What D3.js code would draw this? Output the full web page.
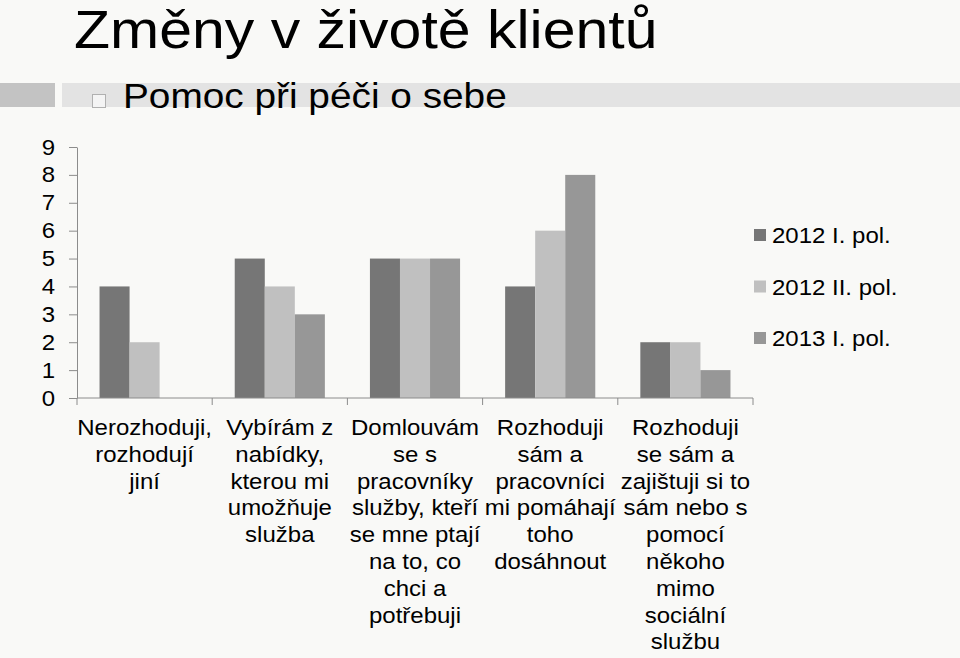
<!DOCTYPE html>
<html>
<head>
<meta charset="utf-8">
<script src="https://cdn.jsdelivr.net/npm/d3@7"></script>
<style>
  html, body { margin: 0; padding: 0; background: #f9f9f7; }
  svg { display: block; }
  text { font-family: "Liberation Sans", Arial, sans-serif; fill: #000; }
</style>
</head>
<body>
<svg id="chart" width="960" height="658"></svg>
<script>
const title = "Změny v životě klientů";
const subtitle = "Pomoc při péči o sebe";
const categories = [
  ["Nerozhoduji,", "rozhodují", "jiní"],
  ["Vybírám z", "nabídky,", "kterou mi", "umožňuje", "služba"],
  ["Domlouvám", "se s", "pracovníky", "služby, kteří", "se mne ptají", "na to, co", "chci a", "potřebuji"],
  ["Rozhoduji", "sám a", "pracovníci", "mi pomáhají", "toho", "dosáhnout"],
  ["Rozhoduji", "se sám a", "zajištuji si to", "sám nebo s", "pomocí", "někoho", "mimo", "sociální", "službu"]
];
const seriesNames = ["2012 I. pol.", "2012 II. pol.", "2013 I. pol."];
const s2012a = [4, 5, 5, 4, 2];
const s2012b = [2, 4, 5, 6, 2];
const s2013a = [0, 3, 5, 8, 1];
const yTicks = [0, 1, 2, 3, 4, 5, 6, 7, 8, 9];
const colors = ["#767676", "#c0c0c0", "#979797"];

const seriesValues = [s2012a, s2012b, s2013a];
const catIdx = categories.map((c, i) => i);
const SY = 0.914; // vertical squash of the original slide

const svg = d3.select("#chart");

function squashedText(x, y, size, str, anchor) {
  return svg.append("text")
    .attr("transform", `translate(${x},${y}) scale(1,${SY})`)
    .attr("font-size", size)
    .attr("text-anchor", anchor || "start")
    .text(str);
}

// header decoration
svg.append("rect").attr("x", 0).attr("y", 83).attr("width", 55).attr("height", 24).attr("fill", "#c3c3c3");
svg.append("rect").attr("x", 62).attr("y", 83).attr("width", 898).attr("height", 24).attr("fill", "#e3e3e3");
svg.append("rect").attr("x", 92.5).attr("y", 94.5).attr("width", 13).attr("height", 13)
  .attr("fill", "#f4f4f4").attr("stroke", "#b0b0b0").attr("stroke-width", 1);

squashedText(74, 48, 59, title);
squashedText(123, 108, 38.8, subtitle);

const plotLeft = 77, plotRight = 753, plotTop = 147, plotBottom = 398;

const x0 = d3.scaleBand().domain(catIdx).range([plotLeft, plotRight]).paddingInner(1/3).paddingOuter(1/6);
const x1 = d3.scaleBand().domain([0, 1, 2]).range([0, x0.bandwidth()]);
const y = d3.scaleLinear().domain([0, 9]).range([plotBottom, plotTop]);

// bars
const g = svg.append("g");
catIdx.forEach(ci => {
  seriesValues.forEach((vals, si) => {
    const v = vals[ci];
    if (v > 0) {
      g.append("rect")
        .attr("x", x0(ci) + x1(si))
        .attr("y", y(v))
        .attr("width", x1.bandwidth())
        .attr("height", y(0) - y(v))
        .attr("fill", colors[si]);
    }
  });
});

// y axis
const yAxis = svg.append("g").attr("transform", `translate(${plotLeft},0)`)
  .call(d3.axisLeft(y).tickValues(yTicks).tickSize(8).tickPadding(14).tickSizeOuter(0));
yAxis.select(".domain").attr("stroke", "#8c8c8c");
yAxis.selectAll(".tick line").attr("stroke", "#8c8c8c");
yAxis.selectAll(".tick text")
  .attr("font-size", 24)
  .attr("font-family", "Liberation Sans, Arial, sans-serif")
  .attr("fill", "#000")
  .attr("transform", `scale(1,${SY})`);

// x axis
const xBound = catIdx.map(i => x0(i) - x0.step() * x0.paddingInner() / 2).concat([plotRight]);
svg.append("line").attr("x1", plotLeft).attr("x2", plotRight).attr("y1", plotBottom).attr("y2", plotBottom).attr("stroke", "#8c8c8c");
svg.selectAll(".xtick").data(xBound).enter().append("line")
  .attr("x1", d => d).attr("x2", d => d).attr("y1", plotBottom).attr("y2", plotBottom + 7).attr("stroke", "#8c8c8c");

// category labels
catIdx.forEach(ci => {
  const cx = x0(ci) + x0.bandwidth() / 2;
  categories[ci].forEach((line, li) => {
    squashedText(cx, 435 + li * 26.8, 24, line, "middle");
  });
});

// legend
seriesNames.forEach((name, i) => {
  const cy = 235 + i * 51.5;
  svg.append("rect").attr("x", 754).attr("y", cy - 6).attr("width", 12).attr("height", 12).attr("fill", colors[i]);
  squashedText(772, cy + 8, 24, name);
});
</script>
</body>
</html>
